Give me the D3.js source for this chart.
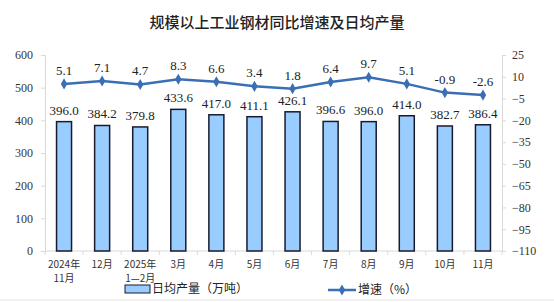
<!DOCTYPE html>
<html>
<head>
<meta charset="utf-8">
<script src="https://cdn.jsdelivr.net/npm/d3@7"></script>
<style>
body { margin: 0; background: #fff; }
svg { display: block; }
</style>
</head>
<body>
<div id="chart"></div>
<script>
var months = ["2024年\n11月", "12月", "2025年\n1—2月", "3月", "4月", "5月", "6月", "7月", "8月", "9月", "10月", "11月"];
var output = [396.0, 384.2, 379.8, 433.6, 417.0, 411.1, 426.1, 396.6, 396.0, 414.0, 382.7, 386.4];
var growth = [5.1, 7.1, 4.7, 8.3, 6.6, 3.4, 1.8, 6.4, 9.7, 5.1, -0.9, -2.6];
var leftTicks = [0, 100, 200, 300, 400, 500, 600];
var rightTicks = [25, 10, -5, -20, -35, -50, -65, -80, -95, -110];

var width = 554, height = 302;
var m = { left: 45, right: 502, top: 55, bottom: 251 };
var serif = "'Liberation Serif', 'Times New Roman', serif";
var cjk = "'Noto Sans CJK SC', sans-serif";

var svg = d3.select("#chart").append("svg")
    .attr("width", width)
    .attr("height", height);

svg.append("text")
    .attr("x", 277).attr("y", 28)
    .attr("text-anchor", "middle")
    .style("font-family", cjk)
    .style("font-size", "15px")
    .style("font-weight", "500")
    .attr("fill", "#222")
    .text("规模以上工业钢材同比增速及日均产量");

var x = d3.scaleBand().domain(d3.range(months.length)).range([m.left, m.right]);
var y = d3.scaleLinear().domain([0, 600]).range([m.bottom, m.top]);
var y2 = d3.scaleLinear().domain([-110, 25]).range([m.bottom, m.top]);

// left axis
var gl = svg.append("g").attr("transform", "translate(" + m.left + ",0)")
    .call(d3.axisLeft(y).tickValues(leftTicks).tickSize(4).tickPadding(8));
gl.select(".domain").attr("stroke", "#d9d9d9");
gl.selectAll(".tick line").attr("stroke", "#d9d9d9");
gl.selectAll("text").style("font-family", serif).style("font-size", "12px").attr("fill", "#333");

// right axis
var gr = svg.append("g").attr("transform", "translate(" + m.right + ",0)")
    .call(d3.axisRight(y2).tickValues(rightTicks).tickSize(4).tickPadding(6));
gr.select(".domain").attr("stroke", "#d9d9d9");
gr.selectAll(".tick line").attr("stroke", "#d9d9d9");
gr.selectAll("text").style("font-family", serif).style("font-size", "12px").attr("fill", "#333");

// x axis baseline + ticks between categories
svg.append("line")
    .attr("x1", m.left).attr("x2", m.right)
    .attr("y1", m.bottom).attr("y2", m.bottom)
    .attr("stroke", "#d9d9d9");
svg.selectAll(".xt").data(d3.range(months.length + 1)).enter().append("line")
    .attr("x1", function(i) { return m.left + i * x.step(); })
    .attr("x2", function(i) { return m.left + i * x.step(); })
    .attr("y1", m.bottom).attr("y2", m.bottom + 4)
    .attr("stroke", "#d9d9d9");

// x labels
var xl = svg.selectAll(".xl").data(months).enter().append("text")
    .attr("text-anchor", "middle")
    .attr("fill", "#333")
    .style("font-family", cjk)
    .style("font-size", "10px");
xl.each(function(d, i) {
    var parts = d.split("\n");
    var t = d3.select(this);
    parts.forEach(function(p, k) {
        t.append("tspan")
            .attr("x", x(i) + x.bandwidth() / 2)
            .attr("y", m.bottom + 17 + k * 14)
            .text(p);
    });
});

// bars
var bw = 15;
svg.selectAll(".bar").data(output).enter().append("rect")
    .attr("x", function(d, i) { return x(i) + x.bandwidth() / 2 - bw / 2; })
    .attr("y", function(d) { return y(d); })
    .attr("width", bw)
    .attr("height", function(d) { return m.bottom - y(d); })
    .attr("fill", "#99ccff")
    .attr("stroke", "#1a1a2e")
    .attr("stroke-width", 1.5);

svg.selectAll(".bl").data(output).enter().append("text")
    .attr("x", function(d, i) { return x(i) + x.bandwidth() / 2; })
    .attr("y", function(d) { return y(d) - 7; })
    .attr("text-anchor", "middle")
    .style("font-family", serif)
    .style("font-size", "13px")
    .attr("fill", "#222")
    .text(function(d) { return d.toFixed(1); });

// growth line
var lineColor = "#3a6fb5";
var line = d3.line()
    .x(function(d, i) { return x(i) + x.bandwidth() / 2; })
    .y(function(d) { return y2(d); });
svg.append("path").datum(growth)
    .attr("d", line)
    .attr("fill", "none")
    .attr("stroke", lineColor)
    .attr("stroke-width", 2.5);

var diamond = d3.symbol().type(d3.symbolDiamond).size(36);
svg.selectAll(".pt").data(growth).enter().append("path")
    .attr("d", diamond)
    .attr("transform", function(d, i) { return "translate(" + (x(i) + x.bandwidth() / 2) + "," + y2(d) + ")"; })
    .attr("fill", lineColor);

svg.selectAll(".gl").data(growth).enter().append("text")
    .attr("x", function(d, i) { return x(i) + x.bandwidth() / 2; })
    .attr("y", function(d) { return y2(d) - 9; })
    .attr("text-anchor", "middle")
    .style("font-family", serif)
    .style("font-size", "13px")
    .attr("fill", "#222")
    .text(function(d) { return d.toFixed(1); });

// legend
svg.append("rect").attr("x", 125).attr("y", 285).attr("width", 25).attr("height", 8)
    .attr("fill", "#99ccff").attr("stroke", "#1a1a2e").attr("stroke-width", 1);
svg.append("text").attr("x", 152).attr("y", 293)
    .style("font-family", cjk).style("font-size", "12px").attr("fill", "#222")
    .text("日均产量（万吨）");

svg.append("line").attr("x1", 328).attr("x2", 356).attr("y1", 290).attr("y2", 290)
    .attr("stroke", lineColor).attr("stroke-width", 2.5);
svg.append("path").attr("d", diamond).attr("transform", "translate(342,290)").attr("fill", lineColor);
svg.append("text").attr("x", 358).attr("y", 294)
    .style("font-family", cjk).style("font-size", "12px").attr("fill", "#222")
    .text("增速（%）");

svg.append("line").attr("x1", 0).attr("x2", width).attr("y1", 300).attr("y2", 300)
    .attr("stroke", "#e6e6e6");
</script>
</body>
</html>
